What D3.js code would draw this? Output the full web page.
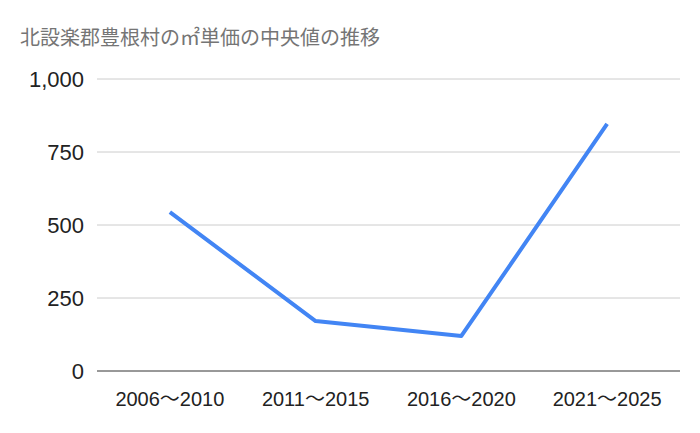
<!DOCTYPE html>
<html><head><meta charset="utf-8">
<script src="https://cdn.jsdelivr.net/npm/d3@7"></script>
<style>body{margin:0;background:#fff}</style>
</head><body><div id="chart"></div>
<script>
const periods = ["2006〜2010", "2011〜2015", "2016〜2020", "2021〜2025"];
const medianPrice = [544, 171, 120, 846];
const yTicks = [0, 250, 500, 750, 1000];

const width = 700, height = 433;
const margin = {top: 79, right: 20, bottom: 62, left: 97};

const svg = d3.select("#chart").append("svg")
  .attr("width", width).attr("height", height)
  .style("font-family", "'Liberation Sans', Arial, 'Noto Sans CJK JP', sans-serif");

const x = d3.scaleBand().domain(periods).range([margin.left, width - margin.right]);
const y = d3.scaleLinear().domain([0, 1000]).range([height - margin.bottom, margin.top]);

svg.append("text").attr("x", 20).attr("y", 45)
  .attr("fill", "#757575").attr("font-size", 20)
  .style("font-family", "'Noto Sans CJK JP', sans-serif")
  .text("北設楽郡豊根村の㎡単価の中央値の推移");

svg.append("g").selectAll("line").data(yTicks).join("line")
  .attr("x1", margin.left).attr("x2", width - margin.right)
  .attr("y1", d => y(d)).attr("y2", d => y(d))
  .attr("stroke", d => d === 0 ? "#333" : "#ccc").attr("stroke-width", 1);

svg.append("g").selectAll("text").data(yTicks).join("text")
  .attr("x", 84).attr("y", d => y(d) + 8)
  .attr("text-anchor", "end").attr("font-size", 22).attr("fill", "#222")
  .text(d => d3.format(",")(d));

svg.append("g").selectAll("text").data(periods).join("text")
  .attr("x", d => x(d) + x.bandwidth() / 2).attr("y", 406)
  .attr("text-anchor", "middle").attr("font-size", 20).attr("fill", "#222")
  .text(d => d);

const line = d3.line()
  .x((d, i) => x(periods[i]) + x.bandwidth() / 2)
  .y(d => y(d));

svg.append("path").datum(medianPrice)
  .attr("d", line).attr("fill", "none")
  .attr("stroke", "#4285f4").attr("stroke-width", 4)
  .attr("stroke-linejoin", "round");
</script>
</body></html>
